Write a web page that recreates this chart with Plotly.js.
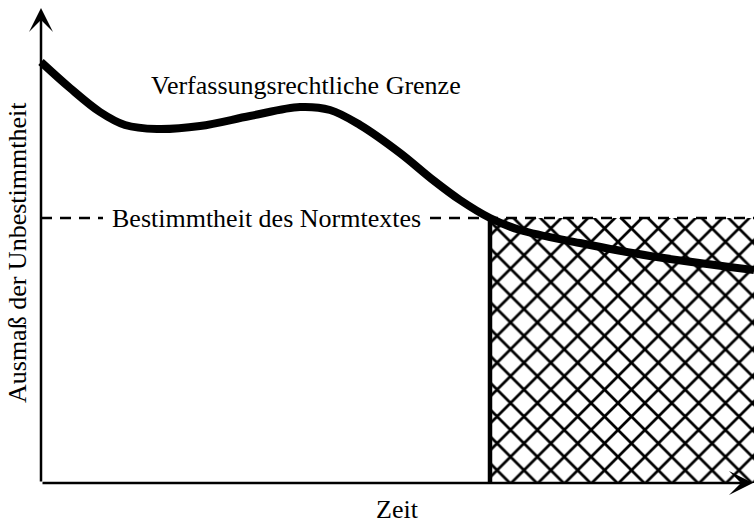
<!DOCTYPE html>
<html>
<head>
<meta charset="utf-8">
<script src="https://cdn.plot.ly/plotly-3.0.1.min.js"></script>
<style>html,body{margin:0;padding:0;background:#fff;}#chart{width:754px;height:525px;}</style>
</head>
<body>
<div id="chart"></div>
<script>
// Curve "Verfassungsrechtliche Grenze": time vs. degree of indeterminacy
var curveTime = [0, 29, 59, 84, 116, 159, 209, 259, 289, 319, 359, 392, 419, 449, 479, 539, 609, 713];
var curveValue = [421, 395, 371, 358, 354, 357, 367, 376, 373, 358, 330, 303, 283, 265, 253, 240, 227, 213];

// Level "Bestimmtheit des Normtextes" and the point in time where it is crossed
var normLevel = 265;
var crossTime = 449;
var endTime = 713;
var labelGapStart = 62;
var labelGapEnd = 389;

// Texts
var curveLabel = 'Verfassungsrechtliche Grenze';
var levelLabel = 'Bestimmtheit des Normtextes';
var xTitle = 'Zeit';
var yTitle = 'Ausmaß der Unbestimmtheit';

var FONT = 'Liberation Serif, Times New Roman, serif';

var traces = [
  { // hatched region
    x: [crossTime, endTime + 10, endTime + 10, crossTime, crossTime],
    y: [0, 0, normLevel, normLevel, 0],
    mode: 'lines', fill: 'toself', line: {width: 0, color: 'rgba(0,0,0,0)'},
    fillcolor: 'white',
    fillpattern: {shape: 'x', size: 19, solidity: 0.27, fgcolor: 'black', bgcolor: 'white'},
    hoverinfo: 'skip', showlegend: false
  },
  { // dashed level line (broken around label)
    x: [0, labelGapStart, null, labelGapEnd, endTime + 10],
    y: [normLevel, normLevel, null, normLevel, normLevel],
    mode: 'lines', line: {color: 'black', width: 2.5, dash: '11px,8px'},
    connectgaps: false, hoverinfo: 'skip', showlegend: false
  },
  { // vertical boundary
    x: [crossTime, crossTime],
    y: [0, normLevel],
    mode: 'lines', line: {color: 'black', width: 4.5},
    hoverinfo: 'skip', showlegend: false
  },
  { // constitutional limit curve
    x: curveTime, y: curveValue,
    mode: 'lines', line: {color: 'black', width: 8, shape: 'spline', smoothing: 1},
    hoverinfo: 'skip', showlegend: false
  }
];

var layout = {
  width: 754, height: 525,
  margin: {l: 0, r: 0, t: 0, b: 0},
  paper_bgcolor: 'white', plot_bgcolor: 'white',
  xaxis: {range: [-41, 713], visible: false, fixedrange: true},
  yaxis: {range: [-42, 483], visible: false, fixedrange: true},
  showlegend: false,
  annotations: [
    { // y axis arrow
      x: 0, y: 475, ax: 0, ay: 0, xref: 'x', yref: 'y', axref: 'x', ayref: 'y',
      text: '', showarrow: true, arrowhead: 3, arrowsize: 1.6, arrowwidth: 2.5, arrowcolor: 'black', standoff: 0
    },
    { // x axis arrow
      x: 712, y: 0, ax: 0, ay: 0, xref: 'x', yref: 'y', axref: 'x', ayref: 'y',
      text: '', showarrow: true, arrowhead: 3, arrowsize: 1.6, arrowwidth: 2.5, arrowcolor: 'black', standoff: 0
    },
    {x: 265, y: 398, xref: 'x', yref: 'y', text: curveLabel, showarrow: false,
     font: {family: FONT, size: 26, color: 'black'}},
    {x: 225, y: normLevel, xref: 'x', yref: 'y', text: levelLabel, showarrow: false,
     font: {family: FONT, size: 26, color: 'black'}},
    {x: 356, y: -26, xref: 'x', yref: 'y', text: xTitle, showarrow: false,
     font: {family: FONT, size: 26, color: 'black'}},
    {x: -24, y: 230, xref: 'x', yref: 'y', text: yTitle, showarrow: false, textangle: -90,
     font: {family: FONT, size: 26, color: 'black'}}
  ]
};

Plotly.newPlot('chart', traces, layout, {staticPlot: true, displayModeBar: false});
</script>
</body>
</html>
